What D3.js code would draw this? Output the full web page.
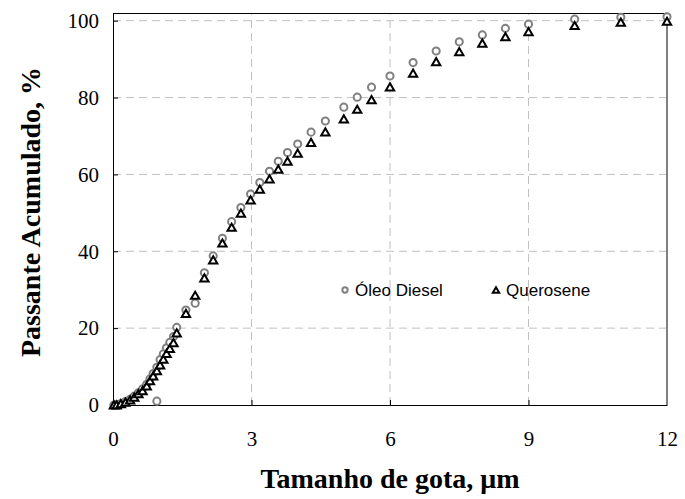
<!DOCTYPE html>
<html>
<head>
<meta charset="utf-8">
<script src="https://cdn.jsdelivr.net/npm/d3@7"></script>
<style>
  body { margin: 0; background: #fff; }
</style>
</head>
<body>
<div id="chart"></div>
<script>
// Droplet size (µm) and cumulative passing (%)
const dieselX = [0.02, 0.08, 0.17, 0.27, 0.37, 0.46, 0.55, 0.64, 0.73, 0.8, 0.87, 0.95, 0.95, 1.02, 1.09, 1.16, 1.23, 1.31, 1.38, 1.58, 1.78, 1.98, 2.17, 2.37, 2.57, 2.77, 2.98, 3.18, 3.39, 3.58, 3.78, 4.0, 4.29, 4.6, 5.0, 5.29, 5.6, 6.0, 6.5, 7.0, 7.5, 8.0, 8.5, 9.0, 10, 11, 12];
const dieselY = [0, 0.1, 0.4, 0.9, 1.5, 2.3, 3.2, 4.2, 5.4, 6.8, 8.2, 9.8, 1.0, 11.8, 13.3, 14.9, 16.3, 17.8, 20.2, 24.7, 26.5, 34.4, 38.8, 43.4, 47.7, 51.4, 54.9, 57.9, 60.8, 63.4, 65.7, 67.9, 71.0, 73.9, 77.5, 80.1, 82.7, 85.6, 89.1, 92.1, 94.5, 96.3, 98.0, 99.1, 100.4, 100.9, 101.0];

const queroX = [0.02, 0.08, 0.17, 0.27, 0.37, 0.46, 0.55, 0.64, 0.73, 0.8, 0.87, 0.95, 1.02, 1.09, 1.16, 1.23, 1.31, 1.38, 1.58, 1.78, 1.98, 2.17, 2.37, 2.57, 2.77, 2.98, 3.18, 3.39, 3.58, 3.78, 4.0, 4.29, 4.6, 5.0, 5.29, 5.6, 6.0, 6.5, 7.0, 7.5, 8.0, 8.5, 9.0, 10, 11, 12];
const queroY = [0, 0, 0.3, 0.7, 1.3, 2.0, 2.9, 3.7, 4.9, 6.3, 7.5, 8.9, 10.4, 11.9, 13.4, 14.7, 16.2, 18.7, 23.8, 28.5, 33.0, 37.7, 42.1, 46.2, 49.9, 53.3, 56.1, 58.8, 61.3, 63.4, 65.5, 68.3, 71.0, 74.4, 76.9, 79.4, 82.7, 86.3, 89.3, 91.9, 94.1, 95.8, 97.1, 98.7, 99.6, 99.8];

const xTicks = [0, 3, 6, 9, 12];
const yTicks = [0, 20, 40, 60, 80, 100];
const seriesNames = ["Óleo Diesel", "Querosene"];

const width = 685, height = 499;
const margin = { top: 13, right: 18, bottom: 94, left: 113 };
const serif = "Liberation Serif, Times New Roman, serif";

const svg = d3.select("#chart")
  .append("svg")
  .attr("width", width)
  .attr("height", height);

const x = d3.scaleLinear().domain([0, 12]).range([margin.left, width - margin.right]);
const y = d3.scaleLinear().domain([0, 102]).range([height - margin.bottom, margin.top]);

// dashed grid
svg.append("g")
  .selectAll("line")
  .data(yTicks.slice(1))
  .enter().append("line")
  .attr("x1", x(0)).attr("x2", x(12))
  .attr("y1", d => y(d)).attr("y2", d => y(d))
  .attr("stroke", "#c0c0c0").attr("stroke-dasharray", "8,5");

svg.append("g")
  .selectAll("line")
  .data(xTicks.slice(1, -1))
  .enter().append("line")
  .attr("x1", d => x(d)).attr("x2", d => x(d))
  .attr("y1", y(0)).attr("y2", y(102))
  .attr("stroke", "#c0c0c0").attr("stroke-dasharray", "8,5");

// frame: top black, right grey
svg.append("line")
  .attr("x1", x(0)).attr("x2", x(12)).attr("y1", y(102) + 0.5).attr("y2", y(102) + 0.5)
  .attr("stroke", "#000");
svg.append("line")
  .attr("x1", x(12)).attr("x2", x(12)).attr("y1", y(102)).attr("y2", y(0))
  .attr("stroke", "#808080").attr("stroke-width", 2);

// axes
const xAxis = svg.append("g")
  .attr("transform", `translate(0,${y(0)})`)
  .call(d3.axisBottom(x).tickValues(xTicks).tickSize(-5).tickPadding(39).tickSizeOuter(0));
const yAxis = svg.append("g")
  .attr("transform", `translate(${x(0)},0)`)
  .call(d3.axisLeft(y).tickValues(yTicks).tickSize(-5).tickPadding(14).tickSizeOuter(0));

[xAxis, yAxis].forEach(g => {
  g.select(".domain").attr("stroke", "#000");
  g.selectAll(".tick line").attr("stroke", "#000");
  g.selectAll(".tick text")
    .attr("font-family", serif)
    .attr("font-size", 21)
    .attr("fill", "#000");
});
xAxis.selectAll(".tick text").attr("dy", "0.1em");
xAxis.selectAll(".tick").filter(d => d === 0 || d === 12).select("line").remove();
yAxis.selectAll(".tick").filter(d => d === 0).select("line").remove();

// points
const circleSym = d3.symbol().type(d3.symbolCircle).size(40);
const triSym = d3.symbol().type(d3.symbolTriangle).size(30);

svg.append("g")
  .selectAll("path")
  .data(dieselX.map((v, i) => [v, dieselY[i]]))
  .enter().append("path")
  .attr("d", circleSym)
  .attr("transform", d => `translate(${x(d[0])},${y(d[1])})`)
  .attr("fill", "#fff")
  .attr("stroke", "#808080")
  .attr("stroke-width", 2);

svg.append("g")
  .selectAll("path")
  .data(queroX.map((v, i) => [v, queroY[i]]))
  .enter().append("path")
  .attr("d", triSym)
  .attr("transform", d => `translate(${x(d[0])},${y(d[1]) + 1})`)
  .attr("fill", "#fff")
  .attr("stroke", "#000")
  .attr("stroke-width", 2);

// legend
const legend = svg.append("g").attr("font-family", "Liberation Sans, Arial, sans-serif").attr("font-size", 17);
legend.append("path")
  .attr("d", d3.symbol().type(d3.symbolCircle).size(22))
  .attr("transform", "translate(345,290)")
  .attr("fill", "#fff").attr("stroke", "#808080").attr("stroke-width", 2);
legend.append("text").attr("x", 355).attr("y", 296).text(seriesNames[0]);
legend.append("path")
  .attr("d", d3.symbol().type(d3.symbolTriangle).size(18))
  .attr("transform", "translate(496,291)")
  .attr("fill", "#fff").attr("stroke", "#000").attr("stroke-width", 2);
legend.append("text").attr("x", 506).attr("y", 296).text(seriesNames[1]);

// axis titles
svg.append("text")
  .attr("x", (x(0) + x(12)) / 2)
  .attr("y", 488)
  .attr("text-anchor", "middle")
  .attr("font-family", serif)
  .attr("font-weight", "bold")
  .attr("font-size", 28)
  .text("Tamanho de gota, μm");

svg.append("text")
  .attr("transform", "translate(40,212) rotate(-90)")
  .attr("text-anchor", "middle")
  .attr("font-family", serif)
  .attr("font-weight", "bold")
  .attr("font-size", 28)
  .text("Passante Acumulado, %");
</script>
</body>
</html>
